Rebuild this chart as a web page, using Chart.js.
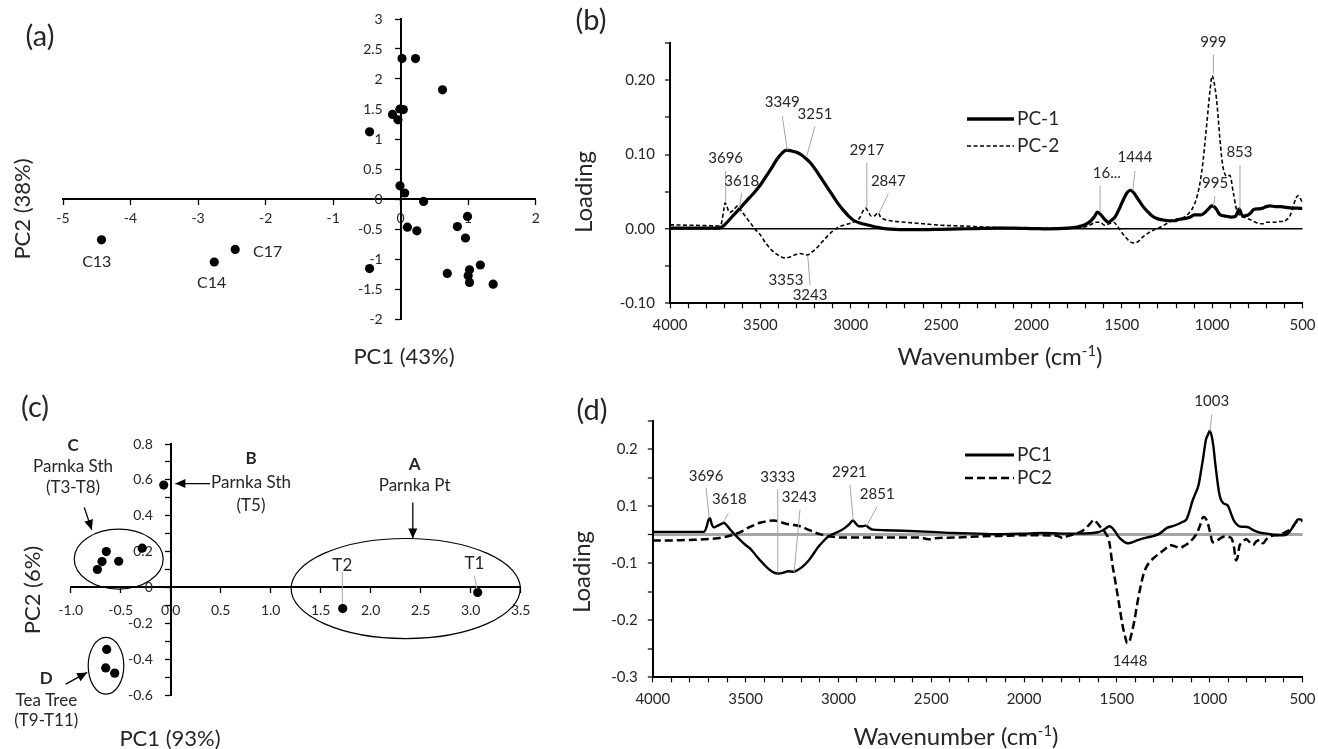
<!DOCTYPE html>
<html>
<head>
<meta charset="utf-8">
<title>PCA scores and loadings</title>
<script src="https://cdn.jsdelivr.net/npm/chart.js@4.4.1/dist/chart.umd.min.js"></script>
<style>
  html, body { margin: 0; background: #fff; }
  #fig { position: relative; width: 1318px; height: 749px; overflow: hidden; background: #fff; }
  #fig canvas { position: absolute; }
</style>
</head>
<body>
<div id="fig">
  <canvas id="panelA" width="560" height="370" style="left:0;top:0"></canvas>
  <canvas id="panelB" width="758" height="370" style="left:560px;top:0"></canvas>
  <canvas id="panelC" width="560" height="379" style="left:0;top:370px"></canvas>
  <canvas id="panelD" width="758" height="379" style="left:560px;top:370px"></canvas>
</div>
<script>
const FONT = 'Lato, "Open Sans", sans-serif';
const INK = '#262626';
const LEADER = '#a6a6a6';

// ---- (a) PCA scores ----
const aPC1 = [0.02, 0.22, 0.62, -0.12, -0.01, 0.04, -0.04, -0.46, -0.01, 0.06, 0.34, 0.99, 0.10,
  0.24, 0.84, 0.96, -0.46, 0.69, 1.02, 1.00, 1.02, 1.18, 1.37, -4.43, -2.76, -2.45];
const aPC2 = [2.34, 2.34, 1.82, 1.41, 1.50, 1.49, 1.32, 1.12, 0.22, 0.10, -0.04, -0.29, -0.47,
  -0.53, -0.46, -0.65, -1.16, -1.24, -1.18, -1.28, -1.39, -1.10, -1.42, -0.68, -1.05, -0.84];
const aNotes = [
  { text: 'C13', at: [-4.50, -1.05] },
  { text: 'C14', at: [-2.80, -1.40] },
  { text: 'C17', at: [-1.97, -0.88] }
];

// ---- (b) loadings ----
const bWave1 = [4000, 3900, 3800, 3740, 3720, 3700, 3680, 3650, 3620, 3590, 3560, 3530, 3500, 3470, 3440,
  3410, 3380, 3355, 3330, 3300, 3270, 3250, 3220, 3190, 3160, 3130, 3100, 3070, 3040, 3010, 2980, 2950,
  2900, 2850, 2800, 2700, 2600, 2500, 2400, 2300, 2200, 2100, 2000, 1900, 1800, 1740, 1700, 1670, 1650,
  1635, 1615, 1595, 1575, 1555, 1535, 1510, 1490, 1470, 1452, 1435, 1410, 1385, 1360, 1330, 1300, 1270,
  1240, 1210, 1180, 1150, 1120, 1100, 1080, 1060, 1040, 1020, 1003, 990, 975, 960, 945, 920, 895, 870,
  860, 850, 840, 830, 815, 800, 785, 770, 740, 720, 700, 680, 650, 620, 590, 560, 530, 500];
const bPC1 = [0.001, 0.001, 0.001, 0.001, 0.002, 0.005, 0.010, 0.018, 0.026, 0.034, 0.042, 0.050, 0.059,
  0.070, 0.081, 0.093, 0.102, 0.106, 0.105, 0.103, 0.099, 0.095, 0.088, 0.078, 0.067, 0.056, 0.045, 0.034,
  0.025, 0.017, 0.011, 0.008, 0.005, 0.002, 0.000, -0.001, -0.001, -0.0005, 0.000, 0.0005, 0.001, 0.001,
  0.0005, 0.000, 0.001, 0.003, 0.006, 0.011, 0.017, 0.0225, 0.019, 0.013, 0.009, 0.012, 0.017, 0.029,
  0.040, 0.049, 0.052, 0.049, 0.040, 0.031, 0.024, 0.017, 0.0135, 0.012, 0.011, 0.011, 0.013, 0.014,
  0.016, 0.019, 0.019, 0.019, 0.022, 0.027, 0.031, 0.030, 0.026, 0.020, 0.018, 0.017, 0.016, 0.017,
  0.022, 0.027, 0.021, 0.017, 0.018, 0.019, 0.022, 0.026, 0.027, 0.028, 0.030, 0.031, 0.030, 0.030,
  0.029, 0.028, 0.028, 0.0275];
const bWave2 = [4000, 3900, 3800, 3730, 3715, 3703, 3695, 3685, 3670, 3650, 3625, 3605, 3580, 3555, 3530,
  3500, 3470, 3440, 3410, 3380, 3360, 3340, 3310, 3280, 3260, 3240, 3220, 3190, 3160, 3130, 3100, 3070,
  3040, 3010, 2980, 2950, 2932, 2918, 2905, 2885, 2865, 2850, 2835, 2815, 2780, 2700, 2600, 2500, 2400,
  2300, 2200, 2100, 2000, 1900, 1800, 1740, 1700, 1670, 1645, 1620, 1595, 1570, 1545, 1525, 1505, 1480,
  1455, 1430, 1405, 1380, 1350, 1320, 1290, 1260, 1230, 1200, 1160, 1125, 1100, 1080, 1065, 1050, 1035,
  1022, 1010, 1000, 990, 976, 965, 957, 948, 939, 920, 902, 883, 865, 850, 837, 815, 790, 760, 736, 715,
  700, 680, 650, 625, 600, 588, 570, 551, 535, 523, 510, 500];
const bPC2 = [0.0055, 0.005, 0.0045, 0.004, 0.008, 0.025, 0.035, 0.030, 0.022, 0.025, 0.031, 0.024, 0.016,
  0.008, 0.000, -0.008, -0.019, -0.028, -0.034, -0.038, -0.039, -0.038, -0.035, -0.033, -0.034, -0.035,
  -0.032, -0.026, -0.018, -0.010, -0.003, 0.002, 0.005, 0.007, 0.010, 0.015, 0.024, 0.028, 0.024, 0.017,
  0.018, 0.022, 0.016, 0.013, 0.011, 0.009, 0.007, 0.005, 0.004, 0.003, 0.002, 0.0015, 0.001, 0.001,
  0.0015, 0.002, 0.003, 0.006, 0.009, 0.009, 0.005, 0.007, 0.009, 0.004, -0.003, -0.011, -0.017, -0.019,
  -0.016, -0.010, -0.005, -0.001, 0.002, 0.006, 0.010, 0.013, 0.015, 0.022, 0.032, 0.047, 0.065, 0.092,
  0.128, 0.161, 0.190, 0.206, 0.198, 0.175, 0.145, 0.121, 0.098, 0.082, 0.071, 0.072, 0.049, 0.026,
  0.019, 0.017, 0.015, 0.0125, 0.009, 0.007, 0.007, 0.009, 0.009, 0.009, 0.010, 0.010, 0.0126, 0.017,
  0.031, 0.042, 0.045, 0.040, 0.035];
const bNotes = [
  { text: '3696', at: [3692, 0.0946], lead: [3692, 0.0778, 3692, 0.0351] },
  { text: '3618', at: [3603, 0.0643], lead: [3603, 0.0486, 3616, 0.0284] },
  { text: '3349', at: [3379, 0.170], lead: [3379, 0.152, 3351, 0.106] },
  { text: '3251', at: [3198, 0.1545], lead: [3198, 0.138, 3243, 0.098] },
  { text: '2917', at: [2911, 0.106], lead: [2911, 0.089, 2911, 0.028] },
  { text: '2847', at: [2792, 0.064], lead: [2792, 0.0477, 2847, 0.0193] },
  { text: '3353', at: [3358, -0.0695] },
  { text: '3243', at: [3225, -0.0888], lead: [3225, -0.0753, 3238, -0.036] },
  { text: '16...', at: [1583, 0.0747], lead: [1620, 0.0585, 1620, 0.0224] },
  { text: '1444', at: [1427, 0.096], lead: [1427, 0.078, 1439, 0.052] },
  { text: '999', at: [993, 0.251], lead: [993, 0.234, 993, 0.2085] },
  { text: '995', at: [984, 0.061], lead: [984, 0.044, 993, 0.0305] },
  { text: '853', at: [849, 0.1027], lead: [846, 0.0855, 846, 0.0261] }
];

// ---- (c) PCA scores ----
const cPC1 = [3.07, 1.72, -0.07, -0.285, -0.644, -0.687, -0.52, -0.733, -0.64, -0.65, -0.56];
const cPC2 = [-0.028, -0.118, 0.571, 0.219, 0.20, 0.144, 0.146, 0.10, -0.346, -0.449, -0.478];
const cNotes = [
  { text: 'C', bold: true, at: [-0.977, 0.793] },
  { text: 'Parnka Sth', at: [-0.977, 0.677] },
  { text: '(T3-T8)', at: [-0.977, 0.557] },
  { text: 'B', bold: true, at: [0.803, 0.719] },
  { text: 'Parnka Sth', at: [0.803, 0.585] },
  { text: '(T5)', at: [0.803, 0.458] },
  { text: 'A', bold: true, at: [2.439, 0.687] },
  { text: 'Parnka Pt', at: [2.439, 0.566] },
  { text: 'T2', at: [1.716, 0.124] },
  { text: 'T1', at: [3.037, 0.135] },
  { text: 'D', bold: true, at: [-1.244, -0.507] },
  { text: 'Tea Tree', at: [-1.244, -0.632] },
  { text: '(T9-T11)', at: [-1.244, -0.743] }
];
const cArrows = [[-0.864, 0.446, -0.789, 0.321], [0.393, 0.579, 0.047, 0.579],
  [2.421, 0.474, 2.421, 0.273], [-1.049, -0.539, -0.835, -0.474]];
const cGroups = [[-0.52, 0.158, 0.445, 0.167], [-0.647, -0.437, 0.178, 0.158], [2.35, -0.006, 1.146, 0.279]];
const cLeaders = [[1.716, 0.085, 1.716, -0.093], [3.037, 0.065, 3.062, -0.009]];

// ---- (d) loadings ----
const dWave1 = [4000, 3900, 3800, 3725, 3712, 3700, 3692, 3682, 3670, 3650, 3630, 3618, 3600, 3580, 3557,
  3530, 3500, 3470, 3440, 3410, 3380, 3350, 3325, 3300, 3270, 3243, 3215, 3190, 3165, 3140, 3110, 3080,
  3055, 3030, 3010, 2985, 2965, 2940, 2922, 2905, 2890, 2870, 2852, 2835, 2815, 2750, 2650, 2500, 2380,
  2250, 2130, 2000, 1900, 1800, 1700, 1610, 1580, 1560, 1540, 1525, 1508, 1490, 1470, 1445, 1425, 1400,
  1375, 1340, 1300, 1270, 1250, 1230, 1200, 1175, 1150, 1125, 1110, 1095, 1080, 1060, 1045, 1035, 1020,
  1010, 1000, 990, 980, 970, 960, 950, 940, 925, 910, 900, 885, 870, 850, 830, 810, 790, 770, 750, 720,
  690, 660, 620, 590, 570, 555, 540, 525, 510, 500];
const dPC1 = [0.005, 0.005, 0.005, 0.005, 0.012, 0.026, 0.029, 0.018, 0.013, 0.016, 0.019, 0.021, 0.016,
  0.008, 0.000, -0.009, -0.018, -0.026, -0.038, -0.049, -0.059, -0.066, -0.068, -0.067, -0.064, -0.065,
  -0.061, -0.055, -0.047, -0.036, -0.022, -0.011, -0.003, 0.001, 0.004, 0.008, 0.012, 0.019, 0.025, 0.019,
  0.015, 0.015, 0.016, 0.012, 0.009, 0.008, 0.007, 0.005, 0.003, 0.002, 0.001, 0.002, 0.003, 0.002, 0.002,
  0.004, 0.007, 0.011, 0.015, 0.012, 0.005, -0.004, -0.010, -0.015, -0.014, -0.011, -0.008, -0.005, -0.002,
  0.002, 0.007, 0.012, 0.015, 0.018, 0.022, 0.027, 0.040, 0.057, 0.070, 0.087, 0.115, 0.135, 0.167, 0.175,
  0.182, 0.174, 0.155, 0.125, 0.098, 0.075, 0.062, 0.055, 0.053, 0.050, 0.037, 0.025, 0.017, 0.014, 0.014,
  0.013, 0.009, 0.006, 0.003, 0.002, 0.000, -0.001, 0.000, 0.005, 0.012, 0.020, 0.027, 0.027, 0.023];
const dWave2 = [4000, 3900, 3800, 3720, 3650, 3600, 3557, 3520, 3494, 3460, 3423, 3380, 3347, 3310, 3279,
  3240, 3207, 3170, 3135, 3100, 3063, 3020, 2991, 2900, 2830, 2700, 2561, 2530, 2508, 2480, 2382, 2250,
  2130, 2000, 1900, 1820, 1790, 1770, 1740, 1720, 1690, 1666, 1640, 1625, 1610, 1590, 1573, 1560, 1546,
  1537, 1525, 1510, 1495, 1483, 1470, 1456, 1445, 1435, 1420, 1405, 1393, 1375, 1357, 1340, 1321, 1295,
  1268, 1240, 1214, 1190, 1160, 1135, 1115, 1090, 1070, 1050, 1035, 1025, 1010, 995, 985, 970, 955, 930,
  910, 895, 883, 870, 858, 850, 840, 830, 815, 803, 785, 767, 750, 731, 713, 695, 677, 650, 623, 595, 568,
  550, 532, 515, 500];
const dPC2 = [-0.010, -0.010, -0.009, -0.008, -0.006, -0.003, 0.001, 0.006, 0.011, 0.016, 0.021, 0.024,
  0.025, 0.022, 0.019, 0.017, 0.015, 0.010, 0.005, 0.001, -0.002, -0.004, -0.005, -0.005, -0.005, -0.005,
  -0.005, -0.007, -0.008, -0.006, -0.005, -0.003, -0.002, -0.001, -0.001, -0.002, -0.006, -0.003, 0.000,
  0.002, 0.006, 0.012, 0.021, 0.026, 0.022, 0.014, 0.009, 0.002, -0.006, -0.020, -0.050, -0.079, -0.108,
  -0.132, -0.158, -0.178, -0.190, -0.189, -0.172, -0.150, -0.126, -0.095, -0.070, -0.056, -0.047, -0.039,
  -0.032, -0.025, -0.018, -0.020, -0.023, -0.019, -0.015, -0.007, 0.002, 0.018, 0.031, 0.030, 0.020, 0.000,
  -0.013, -0.012, -0.009, -0.004, -0.003, -0.004, -0.006, -0.020, -0.045, -0.040, -0.020, -0.015, -0.010,
  -0.008, -0.013, -0.018, -0.012, -0.009, -0.015, -0.008, -0.003, -0.001, 0.000, 0.004, 0.009, 0.015,
  0.023, 0.026, 0.026];
// y tick labels of (d) as printed on the axis, at these tick values
const dTickValues = [0.15, 0.05, -0.05, -0.15, -0.25];
const dTickText = ['0.2', '0.1', '-0.1', '-0.2', '-0.3'];
const dNotes = [
  { text: '3696', at: [3713, 0.1035], lead: [3713, 0.082, 3696, 0.029] },
  { text: '3618', at: [3588, 0.0626], lead: [3593, 0.038, 3620, 0.0216] },
  { text: '3333', at: [3327, 0.101], lead: [3327, 0.080, 3327, -0.068] },
  { text: '3243', at: [3211, 0.066], lead: [3207, 0.044, 3239, -0.066] },
  { text: '2921', at: [2941, 0.109], lead: [2938, 0.0877, 2920, 0.025] },
  { text: '2851', at: [2791, 0.072], lead: [2791, 0.0497, 2848, 0.0158] },
  { text: '1003', at: [989, 0.234], lead: [989, 0.2105, 998, 0.181] },
  { text: '1448', at: [1429, -0.222] }
];

// ---------- helpers ----------
Chart.defaults.font.family = FONT;

const px = (c, v) => c.scales.x.getPixelForValue(v);
const py = (c, v) => c.scales.y.getPixelForValue(v);
// a y axis placed at x = 0 puts its labels right on the axis line; trailing spaces push them off it
const GAP = '     ';

function stepTicks(from, to, step) {
  const out = [];
  const n = Math.round((to - from) / step);
  for (let i = 0; i <= n; i++) out.push({ value: +(from + i * step).toFixed(6) });
  return out;
}

function label(ctx, s, x, y, size, opt = {}) {
  ctx.save();
  ctx.font = (opt.bold ? 'bold ' : '') + size + 'px ' + FONT;
  ctx.fillStyle = opt.color || INK;
  ctx.textAlign = opt.align || 'center';
  ctx.textBaseline = 'middle';
  ctx.translate(x, y);
  if (opt.rotate) ctx.rotate(-Math.PI / 2);
  ctx.fillText(s, 0, 0);
  ctx.restore();
}

function segment(ctx, x1, y1, x2, y2, color, width, dash) {
  ctx.save();
  ctx.beginPath();
  ctx.setLineDash(dash || []);
  ctx.moveTo(x1, y1);
  ctx.lineTo(x2, y2);
  ctx.strokeStyle = color;
  ctx.lineWidth = width;
  ctx.stroke();
  ctx.restore();
}

function arrow(ctx, x1, y1, x2, y2) {
  segment(ctx, x1, y1, x2, y2, '#000', 1.3);
  const a = Math.atan2(y2 - y1, x2 - x1), L = 10, W = 4.5;
  ctx.save();
  ctx.beginPath();
  ctx.moveTo(x2, y2);
  ctx.lineTo(x2 - L * Math.cos(a) + W * Math.sin(a), y2 - L * Math.sin(a) - W * Math.cos(a));
  ctx.lineTo(x2 - L * Math.cos(a) - W * Math.sin(a), y2 - L * Math.sin(a) + W * Math.cos(a));
  ctx.closePath();
  ctx.fillStyle = '#000';
  ctx.fill();
  ctx.restore();
}

// "Wavenumber (cm-1)" with the -1 raised
function wavenumberTitle(ctx, cx, cy, size) {
  const parts = [['Wavenumber (cm', size, 0], ['-1', size * 0.62, -size * 0.4], [')', size, 0]];
  let total = 0;
  ctx.save();
  parts.forEach(p => { ctx.font = p[1] + 'px ' + FONT; p.push(ctx.measureText(p[0]).width); total += p[3]; });
  let x = cx - total / 2;
  ctx.fillStyle = INK;
  ctx.textAlign = 'left';
  ctx.textBaseline = 'alphabetic';
  parts.forEach(p => { ctx.font = p[1] + 'px ' + FONT; ctx.fillText(p[0], x, cy + size * 0.35 + p[2]); x += p[3]; });
  ctx.restore();
}

function legendRow(ctx, x1, x2, y, text, width, dash) {
  segment(ctx, x1, y, x2, y, '#000', width, dash);
  label(ctx, text, x2 + 3, y, 19, { align: 'left' });
}

function peakNotes(c, notes) {
  notes.forEach(n => {
    if (n.lead) segment(c.ctx, px(c, n.lead[0]), py(c, n.lead[1]), px(c, n.lead[2]), py(c, n.lead[3]), LEADER, 1);
    label(c.ctx, n.text, px(c, n.at[0]), py(c, n.at[1]), 15);
  });
}

// ---------- scatter (score) panels ----------
function scoreAxis(pos, min, max, step, fmt, size, pad) {
  return {
    type: 'linear', position: pos, min, max,
    afterBuildTicks: s => { s.ticks = stepTicks(min, max, step); },
    ticks: { autoSkip: false, maxRotation: 0, padding: pad, color: INK, font: { family: FONT, size }, callback: fmt },
    grid: { drawOnChartArea: false, tickLength: 5, tickColor: '#000', tickWidth: 1.3 },
    border: { color: '#000', width: 2 }
  };
}

function scoreChart(id, xs, ys, pad, xAxis, yAxis, draw) {
  return new Chart(document.getElementById(id), {
    type: 'scatter',
    data: { datasets: [{ data: xs.map((v, i) => ({ x: v, y: ys[i] })), pointRadius: 4.6,
      pointBackgroundColor: '#000', pointBorderWidth: 0, clip: false }] },
    options: {
      responsive: false, animation: false, devicePixelRatio: 1,
      layout: { padding: pad },
      plugins: { legend: { display: false }, tooltip: { enabled: false } },
      scales: { x: xAxis, y: yAxis }
    },
    plugins: [{ id: id + 'Notes', afterDraw: draw }]
  });
}

scoreChart('panelA', aPC1, aPC2, { left: 63, right: 24.3, top: 19, bottom: 51 },
  scoreAxis({ y: 0 }, -5, 2, 1, v => String(Math.round(v)), 14, 6),
  scoreAxis({ x: 0 }, -2, 3, 0.5, v => String(Math.round(v * 10) / 10) + GAP, 14, 4),
  c => {
    const ctx = c.ctx;
    label(ctx, '(a)', 40, 37, 29);
    label(ctx, 'PC2 (38%)', 23, 209, 22, { rotate: true });
    label(ctx, 'PC1 (43%)', 404, 357, 22);
    aNotes.forEach(n => label(ctx, n.text, px(c, n.at[0]), py(c, n.at[1]), 16));
  });

scoreChart('panelC', cPC1, cPC2, { left: 70.7, right: 39.3, top: 74, bottom: 54 },
  scoreAxis({ y: 0 }, -1, 3.5, 0.5, v => (Math.round(v * 10) / 10).toFixed(1), 14, 10),
  scoreAxis({ x: 0 }, -0.6, 0.8, 0.1, v => {
    const k = Math.round(v * 10);
    return k % 2 === 0 ? (k === 0 ? '0' : (k / 10).toFixed(1)) + GAP : '';
  }, 14, 4),
  c => {
    const ctx = c.ctx;
    label(ctx, '(c)', 35, 38, 29);
    label(ctx, 'PC2 (6%)', 33, 220, 22, { rotate: true });
    label(ctx, 'PC1 (93%)', 170, 369, 22);
    cGroups.forEach(e => {
      ctx.save();
      ctx.beginPath();
      ctx.ellipse(px(c, e[0]), py(c, e[1]), Math.abs(px(c, e[0] + e[2]) - px(c, e[0])),
        Math.abs(py(c, e[1] + e[3]) - py(c, e[1])), 0, 0, Math.PI * 2);
      ctx.lineWidth = 1.2;
      ctx.strokeStyle = '#000';
      ctx.stroke();
      ctx.restore();
    });
    cLeaders.forEach(l => segment(ctx, px(c, l[0]), py(c, l[1]), px(c, l[2]), py(c, l[3]), LEADER, 1));
    cArrows.forEach(a => arrow(ctx, px(c, a[0]), py(c, a[1]), px(c, a[2]), py(c, a[3])));
    cNotes.forEach(n => label(ctx, n.text, px(c, n.at[0]), py(c, n.at[1]), 17, { bold: n.bold }));
  });

// ---------- spectrum (loading) panels ----------
const isZero = t => t.tick && Math.abs(t.tick.value) < 1e-9;

function spectrumChart(id, o, series, draw) {
  return new Chart(document.getElementById(id), {
    type: 'scatter',
    data: {
      datasets: series.map(s => ({
        data: s.w.map((w, i) => ({ x: w, y: s.v[i] })), showLine: true, pointRadius: 0,
        borderColor: '#000', borderWidth: s.width, borderDash: s.dash || [], fill: false,
        cubicInterpolationMode: 'monotone'
      }))
    },
    options: {
      responsive: false, animation: false, devicePixelRatio: 1,
      layout: { padding: { left: 0, right: o.padR, top: o.padT, bottom: 0 } },
      plugins: { legend: { display: false }, tooltip: { enabled: false } },
      scales: {
        x: {
          type: 'linear', reverse: true, min: 500, max: 4000,
          afterFit: s => { s.height = o.xH; },
          afterBuildTicks: s => { s.ticks = stepTicks(500, 4000, 100); },
          ticks: { autoSkip: false, maxRotation: 0, padding: 8, color: INK, font: { family: FONT, size: 15 },
            callback: v => (Math.round(v) % 500 === 0 ? String(Math.round(v)) : '') },
          grid: { drawOnChartArea: false, tickLength: 5, tickColor: '#000', tickWidth: 1.2 },
          border: { color: '#000', width: 2 }
        },
        y: {
          type: 'linear', min: o.yMin, max: o.yMax,
          afterFit: s => { s.width = o.yW; },
          afterBuildTicks: s => { s.ticks = stepTicks(o.yMin, o.yMax, 0.05); },
          ticks: { autoSkip: false, padding: 10, color: INK, font: { family: FONT, size: 15 }, callback: o.yLabel },
          grid: {
            color: t => (isZero(t) ? o.zeroColor : 'rgba(0,0,0,0)'),
            lineWidth: t => (isZero(t) ? o.zeroWidth : 0),
            tickColor: '#000', tickLength: 5, tickWidth: 1.2
          },
          border: { color: '#000', width: 2 }
        }
      }
    },
    plugins: [{ id: id + 'Notes', afterDraw: draw }]
  });
}

spectrumChart('panelB', {
  padR: 15.5, padT: 43, xH: 66.7, yW: 110, yMin: -0.1, yMax: 0.25, zeroColor: '#000', zeroWidth: 1.5,
  yLabel: v => { const k = Math.round(v * 20); return k % 2 === 0 ? (k / 20).toFixed(2) : ''; }
}, [
  { w: bWave1, v: bPC1, width: 3.2 },
  { w: bWave2, v: bPC2, width: 1.6, dash: [4, 2.5] }
], c => {
  const ctx = c.ctx;
  label(ctx, '(b)', 31, 21, 29);
  label(ctx, 'Loading', 24, 192, 24, { rotate: true });
  wavenumberTitle(ctx, 440, 357, 24);
  peakNotes(c, bNotes);
  legendRow(ctx, 407, 454, 119, 'PC-1', 3.5);
  legendRow(ctx, 407, 454, 146, 'PC-2', 1.6, [4, 2.5]);
});

spectrumChart('panelD', {
  padR: 15.5, padT: 50.7, xH: 71.7, yW: 92.8, yMin: -0.25, yMax: 0.2, zeroColor: '#a6a6a6', zeroWidth: 3,
  yLabel: v => { const i = dTickValues.findIndex(t => Math.abs(t - v) < 1e-6); return i < 0 ? '' : dTickText[i]; }
}, [
  { w: dWave2, v: dPC2, width: 2.5, dash: [8, 4] },
  { w: dWave1, v: dPC1, width: 2.4 }
], c => {
  const ctx = c.ctx;
  label(ctx, '(d)', 32, 41, 29);
  label(ctx, 'Loading', 22, 202, 24, { rotate: true });
  wavenumberTitle(ctx, 396, 367, 24);
  peakNotes(c, dNotes);
  legendRow(ctx, 405, 454, 85, 'PC1', 3.2);
  legendRow(ctx, 405, 454, 108, 'PC2', 2.6, [8, 4]);
});
</script>
</body>
</html>
